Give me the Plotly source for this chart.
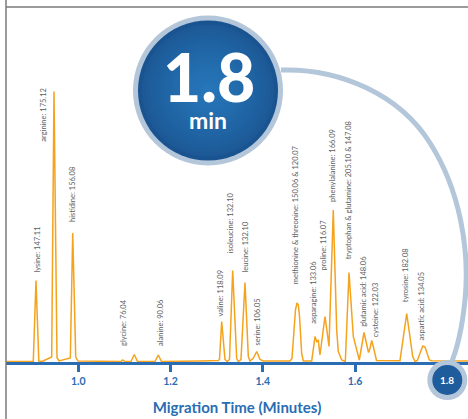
import plotly.graph_objects as go

# Electropherogram trace: migration time (min) and detector signal (a.u.)
time_min = [
    0.8433, 0.9024, 0.9083, 0.9144, 0.9213, 0.9386, 0.9423, 0.9473, 0.9538, 0.9582,
    0.9798, 0.9827, 0.9879, 0.9944, 0.9993, 1.0926, 1.0963, 1.1012, 1.1143, 1.1214,
    1.1283, 1.1663, 1.1734, 1.1804, 1.2638, 1.3035, 1.3061, 1.3109, 1.3180, 1.3230,
    1.3278, 1.3347, 1.3434, 1.3469, 1.3527, 1.3614, 1.3686, 1.3723, 1.3788, 1.3868,
    1.3939, 1.4011, 1.4590, 1.4633, 1.4709, 1.4741, 1.4770, 1.4796, 1.4843, 1.4878,
    1.5060, 1.5132, 1.5169, 1.5203, 1.5240, 1.5290, 1.5348, 1.5385, 1.5435, 1.5528,
    1.5602, 1.5637, 1.5710, 1.5789, 1.5869, 1.5962, 1.6032, 1.6092, 1.6194, 1.6292,
    1.6324, 1.6361, 1.6395, 1.6465, 1.6974, 1.7120, 1.7250, 1.7300, 1.7350, 1.7467,
    1.7517, 1.7610, 1.7662, 1.8449,
]
signal = [
    0.0, 0.0, 81.0, 0.5, 0.0, 3.5, 4.5, 270.0, 4.0, 0.5,
    2.5, 3.5, 128.5, 4.5, 0.5, 0.0, 1.5, 0.0, 0.0, 7.0,
    0.0, 0.0, 6.5, 0.0, 0.5, 1.0, 2.0, 40.0, 2.0, 0.0,
    2.0, 91.0, 3.0, 0.0, 2.0, 79.0, 5.0, 0.5, 3.0, 10.0,
    2.0, 0.5, 0.5, 3.0, 52.0, 58.5, 56.5, 45.0, 8.0, 0.5,
    0.5, 25.0, 20.0, 21.0, 6.5, 26.5, 45.0, 33.0, 15.0, 151.5,
    31.5, 10.0, 1.5, 0.0, 89.0, 25.0, 12.0, 1.5, 29.0, 9.0,
    13.0, 21.0, 15.0, 1.0, 0.8, 48.0, 5.0, 0.0, 1.0, 15.5,
    14.5, 1.5, 0.8, 0.5,
]

# Peak annotations: amino acid name and m/z
peak_names = [
    "lysine", "arginine", "histidine", "glycine", "alanine", "valine",
    "isoleucine", "leucine", "serine", "methionine & threonine", "asparagine",
    "proline", "phenylalanine", "tryptophan & glutamine", "glutamic acid",
    "cysteine", "tyrosine", "aspartic acid",
]
peak_mz = [
    "147.11", "175.12", "156.08", "76.04", "90.06", "118.09",
    "132.10", "132.10", "106.05", "150.06 & 120.07", "133.06",
    "116.07", "166.09", "205.10 & 147.08", "148.06",
    "122.03", "182.08", "134.05",
]
label_time = [
    0.9094, 0.9228, 0.9874, 1.0963, 1.1786, 1.3072,
    1.3304, 1.3614, 1.3881, 1.4713, 1.5095,
    1.5312, 1.5494, 1.5854, 1.6179,
    1.6448, 1.7083, 1.7445,
]
label_base = [
    87.5, 218.5, 138.5, 14.8, 14.8, 43.5,
    107.5, 87.5, 14.8, 76.5, 36.5,
    89.8, 158.8, 101.5, 33.5,
    23.5, 58.2, 19.8,
]

tick_vals = [1.0, 1.2, 1.4, 1.6]
tick_text = ["1.0", "1.2", "1.4", "1.6"]
run_time = 1.8

W, H = 468, 419
ML, MR, MT, MB = 6, 0, 7, 57
PW, PH = W - ML - MR, H - MT - MB
X_RANGE = [0.84325, 1.84488]
Y_RANGE = [-0.5, 354.5]

BLUE = "#2a6db3"
RING = "#b3c6da"
ORANGE = "#f5a21d"


def px(x):
    return (x - ML) / PW


def py(y):
    return 1 - (y - MT) / PH


def mix(c1, c2, f):
    a = [int(c1[i:i + 2], 16) for i in (1, 3, 5)]
    b = [int(c2[i:i + 2], 16) for i in (1, 3, 5)]
    return "#" + "".join(f"{round(a[k] + (b[k] - a[k]) * f):02x}" for k in range(3))


fig = go.Figure()
fig.add_trace(go.Scatter(
    x=time_min, y=signal, mode="lines",
    line=dict(color=ORANGE, width=1.5), hoverinfo="skip", showlegend=False,
))

annotations = []
for name, mz, t, b in zip(peak_names, peak_mz, label_time, label_base):
    annotations.append(dict(
        x=t, y=b, xref="x", yref="y", text=f"{name}: {mz}", showarrow=False,
        textangle=-90, xanchor="center", yanchor="bottom", borderpad=0,
        font=dict(family="Lato", size=7.5, color="#5e5e5e"),
    ))

shapes = []
# frame lines
shapes.append(dict(type="line", xref="paper", yref="paper", x0=px(6), x1=px(6),
                   y0=py(0), y1=py(H), line=dict(color="#7a7a7a", width=1.5), layer="above"))
shapes.append(dict(type="line", xref="paper", yref="paper", x0=px(6), x1=px(W),
                   y0=py(7), y1=py(7), line=dict(color="#7a7a7a", width=1.5), layer="above"))


def P(x, y):
    return f"{px(x):.5f},{py(y):.5f}"


# connector arc from the callout to the run-time marker
arc = (f"M {P(281, 70)} C {P(340, 68)} {P(400, 95)} {P(430, 143)} "
       f"C {P(460, 190)} {P(470, 250)} {P(465, 300)} "
       f"C {P(462, 330)} {P(457, 350)} {P(450, 366)}")
shapes.append(dict(type="path", xref="paper", yref="paper", path=arc,
                   line=dict(color=RING, width=5), layer="above"))

# callout circle with a radial shade
cx, cy = 208, 90.5
shapes.append(dict(type="circle", xref="paper", yref="paper",
                   x0=px(cx - 75), x1=px(cx + 75), y0=py(cy + 75), y1=py(cy - 75),
                   fillcolor=RING, line=dict(width=0), layer="above"))
steps = 18
for i in range(steps):
    r = 70 * (1 - i / steps)
    col = mix("#1a5490", "#2676b9", (i / (steps - 1)) ** 0.7)
    shapes.append(dict(type="circle", xref="paper", yref="paper",
                       x0=px(cx - r), x1=px(cx + r), y0=py(cy + r), y1=py(cy - r),
                       fillcolor=col, line=dict(width=0), layer="above"))

# run-time marker on the axis
mx = ML + (run_time - X_RANGE[0]) / (X_RANGE[1] - X_RANGE[0]) * PW
my = 380
shapes.append(dict(type="circle", xref="paper", yref="paper",
                   x0=px(mx - 20), x1=px(mx + 20), y0=py(my + 20), y1=py(my - 20),
                   fillcolor=RING, line=dict(width=0), layer="above"))
shapes.append(dict(type="circle", xref="paper", yref="paper",
                   x0=px(mx - 15), x1=px(mx + 15), y0=py(my + 15), y1=py(my - 15),
                   fillcolor="#1f5c9b", line=dict(width=0), layer="above"))

annotations.append(dict(x=px(mx), y=py(my), xref="paper", yref="paper", text="1.8",
                        xanchor="center", yanchor="middle", showarrow=False,
                        font=dict(family="Lato", size=10, color="white", weight="bold")))
annotations.append(dict(x=px(209), y=py(77), xref="paper", yref="paper", text="1.8",
                        xanchor="center", yanchor="middle", showarrow=False,
                        font=dict(family="Lato", size=66, color="white", weight=900)))
annotations.append(dict(x=px(208), y=py(120), xref="paper", yref="paper", text="min",
                        xanchor="center", yanchor="middle", showarrow=False,
                        font=dict(family="Lato", size=23, color="white", weight="bold")))

fig.update_layout(
    width=W, height=H, margin=dict(l=ML, r=MR, t=MT, b=MB),
    paper_bgcolor="white", plot_bgcolor="white",
    xaxis=dict(
        range=X_RANGE, showgrid=False, zeroline=False,
        showline=True, linecolor=BLUE, linewidth=3,
        tickvals=tick_vals, ticktext=tick_text, ticks="outside", ticklen=7,
        tickwidth=2.5, tickcolor=BLUE,
        tickfont=dict(family="Lato", size=10.5, color=BLUE, weight="bold"),
        title=dict(text="Migration Time (Minutes)", standoff=17,
                   font=dict(family="Lato", size=15, color=BLUE, weight="bold")),
    ),
    yaxis=dict(range=Y_RANGE, visible=False),
    shapes=shapes, annotations=annotations,
)

fig.write_html("out.html")
